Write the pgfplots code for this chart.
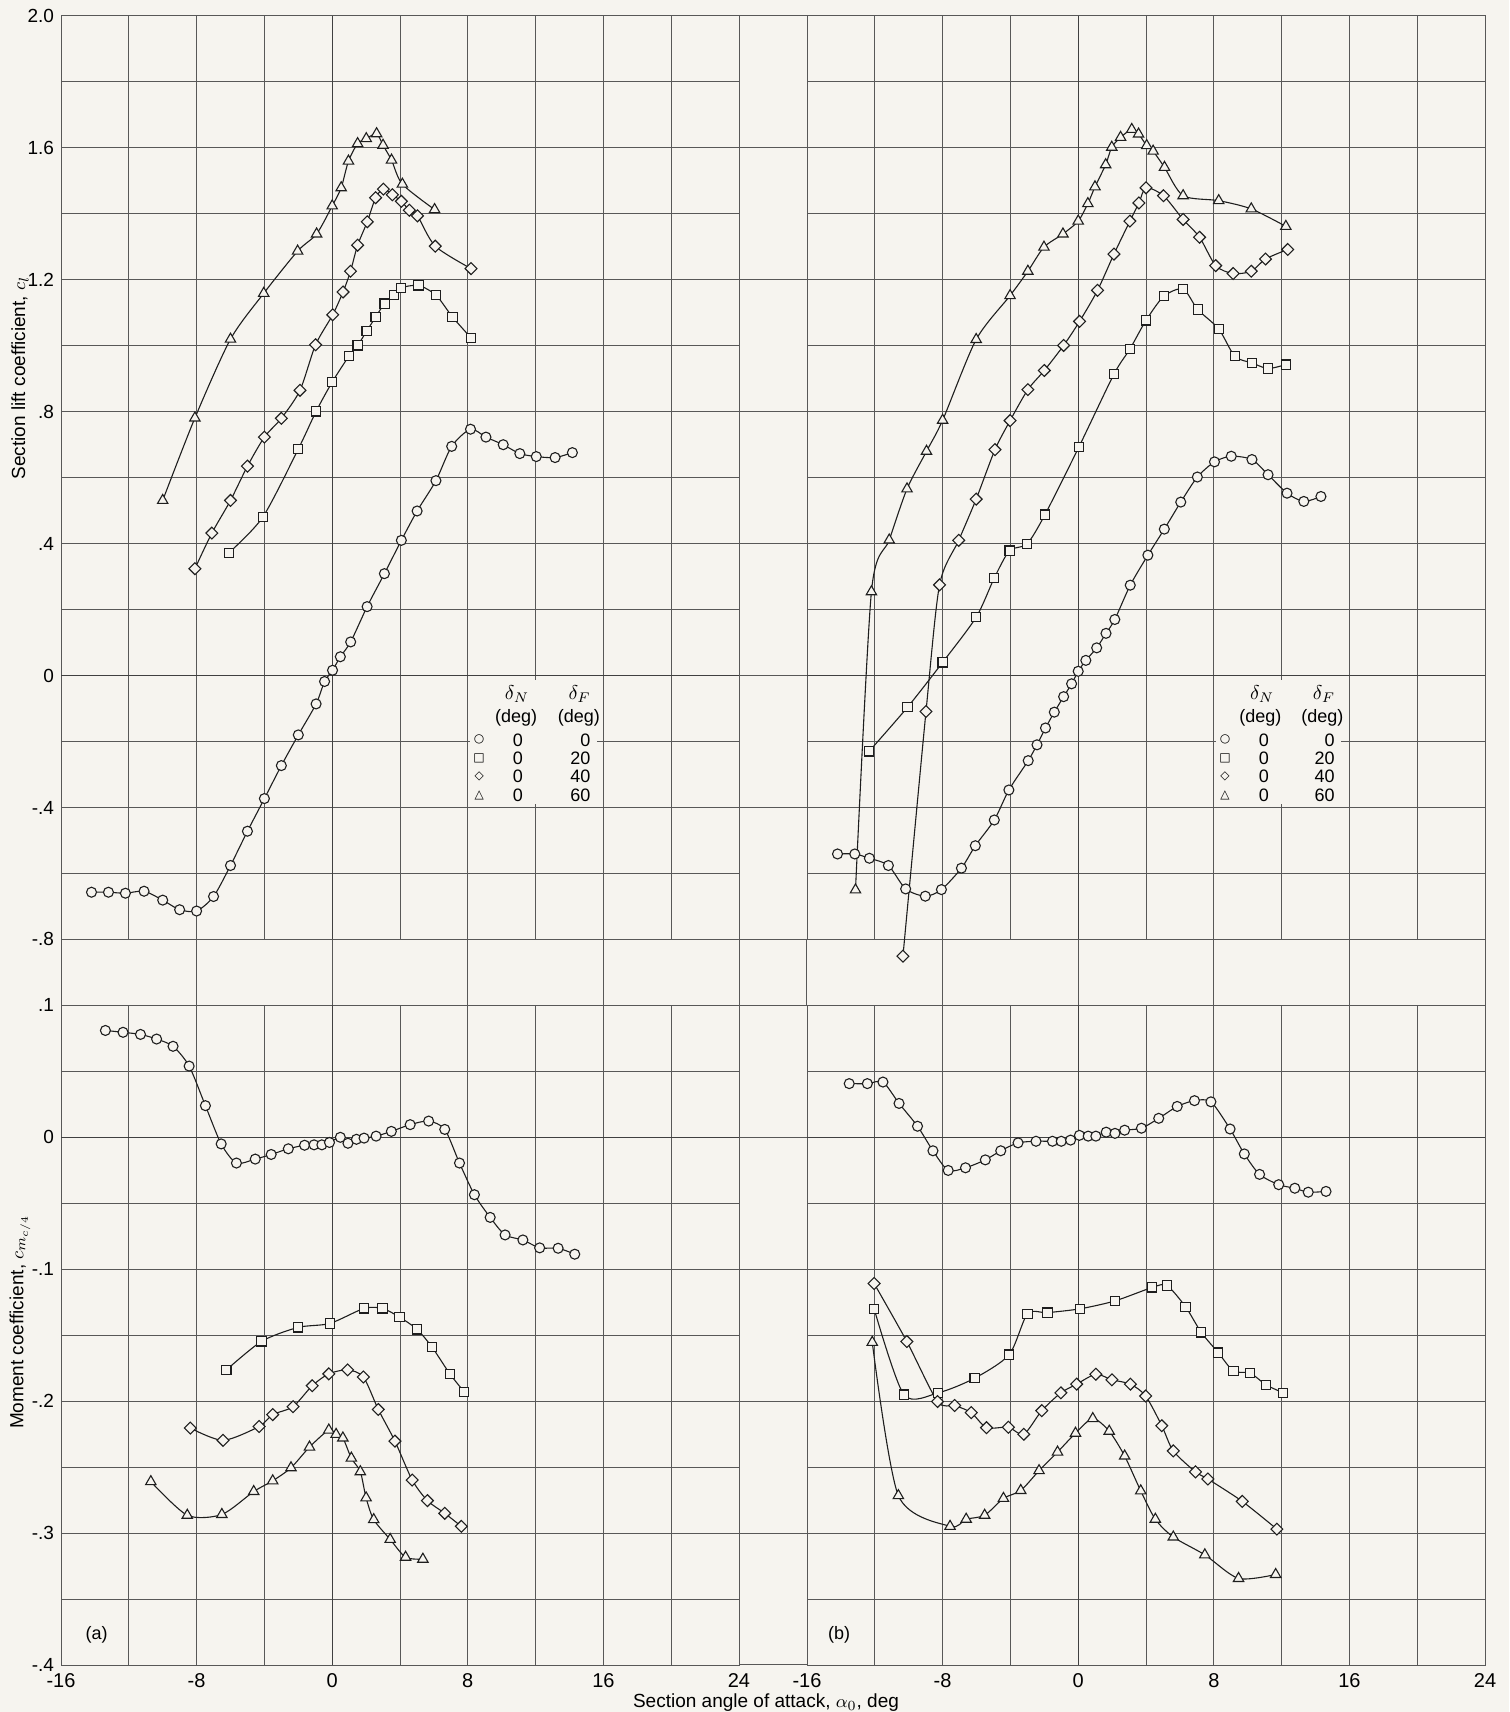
\documentclass[border=0pt]{standalone}
\usepackage{fontspec}
\setmainfont{Liberation Sans}
\newfontfamily\symfont{DejaVu Sans}
\usepackage{pgfplots}
\pgfplotsset{compat=1.18}
\definecolor{paper}{RGB}{246,244,239}
\definecolor{gridc}{RGB}{88,88,88}
\definecolor{ink}{RGB}{30,30,30}
\pgfplotsset{
  base/.style={scale only axis, anchor=south west,
    axis line style={gridc,line width=0.5pt},
    grid=major, major grid style={gridc,line width=0.5pt},
    tick style={draw=none}, major tick length=0pt,
    xticklabel style={font=\fontsize{10}{10}\selectfont, yshift=-0.5pt},
    yticklabel style={font=\fontsize{9.5}{10}\selectfont},
    clip=false},
  zero/.style={extra x ticks={0}, extra x tick labels={}, extra y ticks={0}, extra y tick labels={},
    extra tick style={major grid style={ink!85,line width=0.65pt}}},
  dat/.style={ink, line width=0.55pt, smooth, tension=0.45},
  pc/.style={dat, mark=*, mark size=2.5pt, mark options={solid, fill=paper, draw=ink, line width=0.55pt}},
  ps/.style={dat, mark=square*, mark size=2.3pt, mark options={solid, fill=paper, draw=ink, line width=0.55pt}},
  pd/.style={dat, mark=square*, mark size=2.1pt, mark options={solid, fill=paper, draw=ink, line width=0.55pt, rotate=45}},
  pt/.style={dat, mark=triangle*, mark size=3pt, mark options={solid, fill=paper, draw=ink, line width=0.55pt}},
}
\begin{document}
\begin{tikzpicture}
\path[use as bounding box] (0,0) rectangle (754.5pt,856pt);
\fill[paper] (0,0) rectangle (754.5pt,856pt);

% ---------- band between lift and moment grids ----------
\begin{axis}[base, at={(30.5pt,353.3pt)}, width=712pt, height=33pt,
  xmin=0, xmax=84, ymin=0, ymax=1, ytick=\empty,
  xtick={0,8,16,24,32,40,44,52,60,68,76,84}, xticklabels={}]
\end{axis}
% ---------- gap column ----------
\begin{axis}[base, at={(369.5pt,386.3pt)}, width=34pt, height=461.7pt,
  xmin=0, xmax=1, ymin=-0.8, ymax=2.0, xtick=\empty,
  ytick={-0.8,-0.4,0,0.4,0.8,1.2,1.6,2.0}, yticklabels={}]
\end{axis}
\begin{axis}[base, at={(369.5pt,23.5pt)}, width=34pt, height=329.8pt,
  xmin=0, xmax=1, ymin=-0.4, ymax=0.1, xtick=\empty,
  ytick={-0.4,-0.3,-0.2,-0.1,0,0.1}, yticklabels={}]
\end{axis}

% ---------- (a) lift ----------
\begin{axis}[base, zero, at={(30.5pt,386.3pt)}, width=339pt, height=461.7pt,
  xmin=-16, xmax=24, ymin=-0.8, ymax=2.0,
  xtick={-16,-12,...,24}, xticklabels={},
  ytick={-0.8,-0.6,-0.4,-0.2,0,0.2,0.4,0.6,0.8,1.0,1.2,1.4,1.6,1.8,2.0},
  yticklabels={-.8,,-.4,,0,,.4,,.8,,1.2,,1.6,,2.0}]
\addplot[pc] coordinates {(-14.2,-0.657) (-13.2,-0.657) (-12.2,-0.660) (-11.1,-0.654) (-10.0,-0.681) (-9.0,-0.710) (-8.0,-0.714) (-7.0,-0.670) (-6.0,-0.576) (-5.0,-0.472) (-4.0,-0.373) (-3.0,-0.273) (-2.0,-0.180) (-0.95,-0.086) (-0.45,-0.018) (0.02,0.016) (0.48,0.057) (1.09,0.102) (2.06,0.209) (3.08,0.309) (4.08,0.410) (5.01,0.499) (6.12,0.591) (7.05,0.695) (8.16,0.747) (9.07,0.723) (10.09,0.700) (11.07,0.673) (12.04,0.664) (13.15,0.661) (14.17,0.676)};
\addplot[ps] coordinates {(-6.1,0.372) (-4.1,0.480) (-2.0,0.687) (-0.95,0.801) (0.0,0.890) (0.98,0.968) (1.5,1.001) (2.03,1.044) (2.56,1.087) (3.09,1.128) (3.66,1.153) (4.04,1.175) (5.09,1.183) (6.13,1.153) (7.1,1.087) (8.19,1.024)};
\addplot[pd] coordinates {(-8.1,0.324) (-7.1,0.432) (-6.0,0.531) (-5.0,0.635) (-4.0,0.723) (-3.0,0.780) (-1.9,0.865) (-0.98,1.003) (0.03,1.094) (0.64,1.163) (1.08,1.226) (1.5,1.305) (2.07,1.376) (2.56,1.449) (3.02,1.475) (3.55,1.458) (4.08,1.438) (4.55,1.411) (5.03,1.394) (6.08,1.302) (8.19,1.234)};
\addplot[pt] coordinates {(-10.0,0.531) (-8.1,0.781) (-6.0,1.020) (-4.04,1.159) (-2.04,1.287) (-0.92,1.339) (0.0,1.424) (0.53,1.479) (0.96,1.560) (1.5,1.613) (2.01,1.628) (2.62,1.643) (3.0,1.608) (3.5,1.563) (4.14,1.490) (6.04,1.413)};
\fill[paper] (axis cs:8.12,-0.012) rectangle (axis cs:15.6,-0.388);
\node[font=\fontsize{10}{10}\selectfont] at (axis cs:10.9,-0.055) {$\delta_N$};
\node[font=\fontsize{10}{10}\selectfont] at (axis cs:14.6,-0.055) {$\delta_F$};
\node[font=\fontsize{9}{9}\selectfont] at (axis cs:10.85,-0.129) {(deg)};
\node[font=\fontsize{9}{9}\selectfont] at (axis cs:14.55,-0.129) {(deg)};
\node[font=\symfont\fontsize{6}{6}\selectfont] at (axis cs:8.67,-0.195) {○};
\node[font=\symfont\fontsize{6}{6}\selectfont] at (axis cs:8.67,-0.250) {□};
\node[font=\symfont\fontsize{6}{6}\selectfont] at (axis cs:8.67,-0.307) {◇};
\node[font=\symfont\fontsize{6}{6}\selectfont] at (axis cs:8.67,-0.362) {△};
\node[font=\fontsize{9}{9}\selectfont] at (axis cs:10.95,-0.195) {0};
\node[font=\fontsize{9}{9}\selectfont] at (axis cs:10.95,-0.250) {0};
\node[font=\fontsize{9}{9}\selectfont] at (axis cs:10.95,-0.307) {0};
\node[font=\fontsize{9}{9}\selectfont] at (axis cs:10.95,-0.362) {0};
\node[font=\fontsize{9}{9}\selectfont, anchor=east, inner sep=0pt] at (axis cs:15.25,-0.195) {0};
\node[font=\fontsize{9}{9}\selectfont, anchor=east, inner sep=0pt] at (axis cs:15.25,-0.250) {20};
\node[font=\fontsize{9}{9}\selectfont, anchor=east, inner sep=0pt] at (axis cs:15.25,-0.307) {40};
\node[font=\fontsize{9}{9}\selectfont, anchor=east, inner sep=0pt] at (axis cs:15.25,-0.362) {60};
\end{axis}

% ---------- (a) moment ----------
\begin{axis}[base, zero, at={(30.5pt,23.5pt)}, width=339pt, height=329.8pt,
  xmin=-16, xmax=24, ymin=-0.4, ymax=0.1,
  xtick={-16,-12,...,24}, xticklabels={-16,,-8,,0,,8,,16,,24},
  ytick={-0.4,-0.35,-0.3,-0.25,-0.2,-0.15,-0.1,-0.05,0,0.05,0.1},
  yticklabels={-.4,,-.3,,-.2,,-.1,,0,,.1}]
\addplot[pc] coordinates {(-13.38,0.0810) (-12.34,0.0796) (-11.31,0.0780) (-10.36,0.0745) (-9.39,0.0690) (-8.44,0.0540) (-7.48,0.0240) (-6.55,-0.0050) (-5.65,-0.0195) (-4.54,-0.0165) (-3.6,-0.0130) (-2.59,-0.0087) (-1.63,-0.0060) (-1.07,-0.0057) (-0.61,-0.0057) (-0.16,-0.0039) (0.48,0.0000) (0.93,-0.0045) (1.43,-0.0015) (1.88,-0.0006) (2.59,0.0009) (3.49,0.0045) (4.6,0.0096) (5.69,0.0123) (6.64,0.0060) (7.51,-0.0195) (8.39,-0.0435) (9.32,-0.0607) (10.2,-0.0740) (11.25,-0.0778) (12.24,-0.0838) (13.33,-0.0841) (14.31,-0.0886)};
\addplot[ps] coordinates {(-6.24,-0.1763) (-4.17,-0.1547) (-2.02,-0.1441) (-0.14,-0.1411) (1.88,-0.1297) (2.97,-0.1297) (3.97,-0.1363) (5.01,-0.1456) (5.9,-0.1592) (6.94,-0.1793) (7.78,-0.1928)};
\addplot[pd] coordinates {(-8.37,-0.2204) (-6.44,-0.2297) (-4.31,-0.2192) (-3.51,-0.2102) (-2.31,-0.2042) (-1.18,-0.1883) (-0.2,-0.1793) (0.91,-0.1763) (1.84,-0.1817) (2.72,-0.2063) (3.7,-0.2303) (4.72,-0.2598) (5.62,-0.2754) (6.64,-0.2850) (7.62,-0.2949)};
\addplot[pt] coordinates {(-10.7,-0.2610) (-8.55,-0.2865) (-6.51,-0.2859) (-4.63,-0.2685) (-3.51,-0.2604) (-2.43,-0.2505) (-1.34,-0.2348) (-0.2,-0.2219) (0.23,-0.2252) (0.63,-0.2279) (1.13,-0.2432) (1.66,-0.2535) (2.0,-0.2733) (2.45,-0.2898) (3.42,-0.3048) (4.33,-0.3183) (5.35,-0.3198)};
\node[font=\fontsize{9}{9}\selectfont] at (axis cs:-13.9,-0.377) {(a)};
\end{axis}

% ---------- (b) lift ----------
\begin{axis}[base, zero, at={(403.5pt,386.3pt)}, width=339pt, height=461.7pt,
  xmin=-16, xmax=24, ymin=-0.8, ymax=2.0,
  xtick={-16,-12,...,24}, xticklabels={},
  ytick={-0.8,-0.6,-0.4,-0.2,0,0.2,0.4,0.6,0.8,1.0,1.2,1.4,1.6,1.8,2.0},
  yticklabels={}]
\addplot[pc] coordinates {(-14.2,-0.541) (-13.18,-0.541) (-12.32,-0.554) (-11.2,-0.576) (-10.18,-0.647) (-9.02,-0.669) (-8.07,-0.649) (-6.89,-0.584) (-6.07,-0.516) (-4.95,-0.438) (-4.09,-0.347) (-2.95,-0.258) (-2.43,-0.210) (-1.93,-0.159) (-1.41,-0.111) (-0.86,-0.064) (-0.39,-0.025) (0.0,0.013) (0.45,0.046) (1.09,0.084) (1.64,0.128) (2.16,0.170) (3.07,0.274) (4.11,0.365) (5.08,0.444) (6.05,0.526) (7.03,0.602) (8.04,0.648) (9.03,0.665) (10.25,0.655) (11.2,0.609) (12.32,0.553) (13.31,0.528) (14.32,0.543)};
\addplot[ps] coordinates {(-12.34,-0.230) (-10.07,-0.096) (-8.0,0.040) (-6.02,0.177) (-4.95,0.296) (-4.05,0.379) (-3.02,0.399) (-1.96,0.488) (0.04,0.693) (2.11,0.914) (3.05,0.990) (4.0,1.077) (5.05,1.150) (6.19,1.172) (7.05,1.110) (8.29,1.051) (9.24,0.968) (10.25,0.948) (11.2,0.931) (12.25,0.943)};
\addplot[pd] coordinates {(-10.34,-0.851) (-8.98,-0.109) (-8.18,0.275) (-7.05,0.410) (-6.02,0.535) (-4.91,0.685) (-4.02,0.773) (-2.97,0.867) (-2.0,0.925) (-0.86,1.001) (0.08,1.074) (1.14,1.168) (2.11,1.278) (3.05,1.378) (3.58,1.433) (4.0,1.479) (5.03,1.455) (6.19,1.383) (7.16,1.329) (8.11,1.243) (9.14,1.219) (10.21,1.226) (11.05,1.263) (12.36,1.292)};
\addplot[pt] coordinates {(-13.14,-0.650) (-12.2,0.254) (-11.15,0.411) (-10.1,0.566) (-8.95,0.680) (-8.0,0.774) (-6.02,1.019) (-4.02,1.152) (-2.97,1.226) (-2.02,1.299) (-0.9,1.339) (0.0,1.378) (0.57,1.431) (0.99,1.482) (1.62,1.549) (1.98,1.602) (2.5,1.632) (3.16,1.656) (3.56,1.642) (4.04,1.607) (4.42,1.590) (5.09,1.541) (6.19,1.455) (8.29,1.440) (10.21,1.415) (12.25,1.362)};
\fill[paper] (axis cs:8.12,-0.012) rectangle (axis cs:15.5,-0.388);
\node[font=\fontsize{10}{10}\selectfont] at (axis cs:10.85,-0.055) {$\delta_N$};
\node[font=\fontsize{10}{10}\selectfont] at (axis cs:14.5,-0.055) {$\delta_F$};
\node[font=\fontsize{9}{9}\selectfont] at (axis cs:10.75,-0.129) {(deg)};
\node[font=\fontsize{9}{9}\selectfont] at (axis cs:14.4,-0.129) {(deg)};
\node[font=\symfont\fontsize{6}{6}\selectfont] at (axis cs:8.66,-0.195) {○};
\node[font=\symfont\fontsize{6}{6}\selectfont] at (axis cs:8.66,-0.250) {□};
\node[font=\symfont\fontsize{6}{6}\selectfont] at (axis cs:8.66,-0.307) {◇};
\node[font=\symfont\fontsize{6}{6}\selectfont] at (axis cs:8.66,-0.362) {△};
\node[font=\fontsize{9}{9}\selectfont] at (axis cs:10.95,-0.195) {0};
\node[font=\fontsize{9}{9}\selectfont] at (axis cs:10.95,-0.250) {0};
\node[font=\fontsize{9}{9}\selectfont] at (axis cs:10.95,-0.307) {0};
\node[font=\fontsize{9}{9}\selectfont] at (axis cs:10.95,-0.362) {0};
\node[font=\fontsize{9}{9}\selectfont, anchor=east, inner sep=0pt] at (axis cs:15.15,-0.195) {0};
\node[font=\fontsize{9}{9}\selectfont, anchor=east, inner sep=0pt] at (axis cs:15.15,-0.250) {20};
\node[font=\fontsize{9}{9}\selectfont, anchor=east, inner sep=0pt] at (axis cs:15.15,-0.307) {40};
\node[font=\fontsize{9}{9}\selectfont, anchor=east, inner sep=0pt] at (axis cs:15.15,-0.362) {60};
\end{axis}

% ---------- (b) moment ----------
\begin{axis}[base, zero, at={(403.5pt,23.5pt)}, width=339pt, height=329.8pt,
  xmin=-16, xmax=24, ymin=-0.4, ymax=0.1,
  xtick={-16,-12,...,24}, xticklabels={-16,,-8,,0,,8,,16,,24},
  ytick={-0.4,-0.35,-0.3,-0.25,-0.2,-0.15,-0.1,-0.05,0,0.05,0.1},
  yticklabels={}]
\addplot[pc] coordinates {(-13.51,0.0407) (-12.44,0.0407) (-11.52,0.0419) (-10.57,0.0257) (-9.48,0.0084) (-8.57,-0.0102) (-7.67,-0.0251) (-6.65,-0.0231) (-5.48,-0.0171) (-4.57,-0.0102) (-3.55,-0.0042) (-2.49,-0.0030) (-1.52,-0.0030) (-1.0,-0.0030) (-0.45,-0.0021) (0.07,0.0015) (0.59,0.0009) (1.04,0.0009) (1.65,0.0039) (2.17,0.0030) (2.74,0.0054) (3.73,0.0069) (4.75,0.0144) (5.84,0.0234) (6.86,0.0278) (7.83,0.0269) (8.96,0.0063) (9.8,-0.0126) (10.7,-0.0281) (11.83,-0.0359) (12.78,-0.0386) (13.57,-0.0416) (14.62,-0.0410)};
\addplot[ps] coordinates {(-12.04,-0.1300) (-10.29,-0.1950) (-8.26,-0.1937) (-6.11,-0.1826) (-4.07,-0.1647) (-2.99,-0.1338) (-1.81,-0.1329) (0.11,-0.1300) (2.17,-0.1240) (4.37,-0.1138) (5.23,-0.1123) (6.33,-0.1284) (7.26,-0.1479) (8.26,-0.1632) (9.16,-0.1772) (10.14,-0.1787) (11.09,-0.1877) (12.1,-0.1937)};
\addplot[pd] coordinates {(-12.04,-0.1108) (-10.11,-0.1548) (-8.3,-0.2003) (-7.29,-0.2033) (-6.31,-0.2087) (-5.41,-0.2201) (-4.12,-0.2198) (-3.21,-0.2251) (-2.15,-0.2072) (-1.02,-0.1937) (-0.09,-0.1871) (1.04,-0.1796) (1.99,-0.1838) (3.08,-0.1871) (3.98,-0.1961) (4.93,-0.2186) (5.61,-0.2377) (6.92,-0.2536) (7.65,-0.2590) (9.68,-0.2760) (11.72,-0.2970)};
\addplot[pt] coordinates {(-12.15,-0.1554) (-10.61,-0.2716) (-7.56,-0.2949) (-6.61,-0.2895) (-5.52,-0.2865) (-4.41,-0.2737) (-3.39,-0.2677) (-2.31,-0.2527) (-1.22,-0.2386) (-0.16,-0.2243) (0.86,-0.2132) (1.83,-0.2228) (2.74,-0.2416) (3.69,-0.2680) (4.55,-0.2895) (5.61,-0.3030) (7.47,-0.3165) (9.46,-0.3344) (11.65,-0.3314)};
\node[font=\fontsize{9}{9}\selectfont] at (axis cs:-14.1,-0.377) {(b)};
\end{axis}

\node[rotate=90, font=\fontsize{9.5}{10}\selectfont] at (10pt,667pt) {Section lift coefficient, $c_l$};
\node[rotate=90, font=\fontsize{9.5}{10}\selectfont] at (10pt,195pt) {Moment coefficient, $c_{m_{c/4}}$};
\node[font=\fontsize{9.5}{10}\selectfont, inner sep=1pt] at (383pt,4.5pt) {Section angle of attack, $\alpha_0$, deg};
\end{tikzpicture}
\end{document}
